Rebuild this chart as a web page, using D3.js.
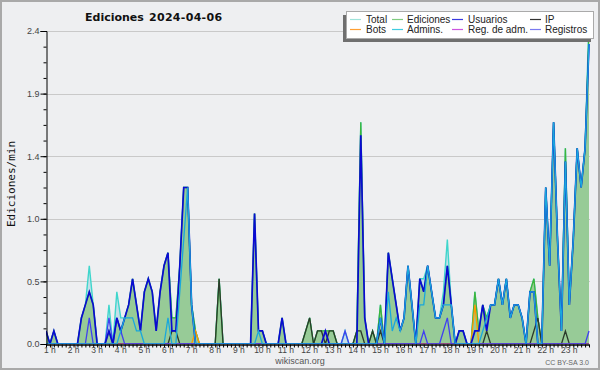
<!DOCTYPE html>
<html>
<head>
<meta charset="utf-8">
<script src="https://cdn.jsdelivr.net/npm/d3@7"></script>
<style>
body{margin:0;background:#fff;}
</style>
</head>
<body>
<div id="chart"></div>
<script>
// 10 min buckets, edits per minute; first value is 0:50, then 6 per hour (1 h .. 23 h)
const hourLabels = ["1 h","2 h","3 h","4 h","5 h","6 h","7 h","8 h","9 h","10 h","11 h","12 h",
    "13 h","14 h","15 h","16 h","17 h","18 h","19 h","20 h","21 h","22 h","23 h"];

const total = [0.1,
    0,0.1,0,0,0,0,  0,0,0.2,0.3,0.6,0.3,  0,0,0,0.3,0,0.4,  0.2,0.2,0.3,0.5,0.3,0.1,
    0.4,0.5,0.4,0.1,0.4,0.6,  0.7,0.2,0.2,0.6,1.2,1.2,  0.3,0.1,0,0,0,0,  0,0.5,0,0,0,0,
    0,0,0,0,1.0,0.1,  0.1,0,0,0,0,0.2,  0,0,0,0,0,0.1,  0.2,0,0.1,0.1,0.1,0.1,
    0.1,0,0,0.1,0,0,  0.1,1.7,0.2,0,0.1,0,  0.3,0,0.7,0.5,0.3,0.1,  0.2,0.6,0.3,0,0.5,0.5,
    0.6,0.4,0.2,0.2,0.4,0.8,  0.3,0,0.1,0.1,0,0,  0.4,0.1,0.3,0.2,0.3,0.3,  0.5,0.3,0.5,0.2,0.3,0.3,
    0.2,0,0.4,0.5,0.2,0,  1.2,0.6,1.7,0.8,0.1,1.5,  0.3,0.8,1.5,1.2,1.5,2.5];

const ediciones = [0.1,
    0,0.1,0,0,0,0,  0,0,0.2,0.3,0.4,0.3,  0,0,0,0.1,0,0.2,  0.1,0.2,0.3,0.5,0.3,0.1,
    0.4,0.5,0.4,0.1,0.4,0.6,  0.7,0.2,0.2,0.6,1.2,1.2,  0.3,0.1,0,0,0,0,  0,0.5,0,0,0,0,
    0,0,0,0,1.0,0.1,  0.1,0,0,0,0,0.2,  0,0,0,0,0,0.1,  0.2,0,0.1,0.1,0.1,0.1,
    0.1,0,0,0,0,0,  0.1,1.7,0.2,0,0.1,0,  0.3,0,0.7,0.5,0.3,0.1,  0.2,0.6,0.3,0,0.5,0.4,
    0.6,0.4,0.2,0.2,0.3,0.6,  0.3,0,0.1,0.1,0,0,  0.4,0.1,0.3,0.2,0.3,0.3,  0.5,0.3,0.5,0.2,0.3,0.3,
    0.2,0,0.4,0.5,0.2,0,  1.2,0.6,1.7,0.8,0.1,1.5,  0.3,0.8,1.5,1.2,1.5,2.4];

const usuarios = [0.1,
    0,0.1,0,0,0,0,  0,0,0.2,0.3,0.4,0.3,  0,0,0,0.1,0,0.2,  0.1,0.2,0.3,0.5,0.3,0.1,
    0.4,0.5,0.4,0.1,0.4,0.6,  0.7,0.1,0.1,0.6,1.2,1.2,  0.3,0,0,0,0,0,  0,0,0,0,0,0,
    0,0,0,0,1.0,0.1,  0.1,0,0,0,0,0.2,  0,0,0,0,0,0,  0,0,0,0,0.1,0,
    0,0,0,0,0,0,  0,1.6,0.2,0,0,0,  0.2,0,0.7,0.5,0.3,0.1,  0.2,0.6,0.3,0,0.5,0.4,
    0.6,0.4,0.2,0.2,0.3,0.6,  0.3,0,0.1,0.1,0,0,  0.1,0.1,0.3,0.1,0.3,0.3,  0.5,0.3,0.5,0.2,0.3,0.3,
    0.2,0,0.4,0.4,0,0,  1.2,0.6,1.7,0.8,0.1,1.4,  0.3,0.8,1.5,1.2,1.5,2.3];

const ip = [0,
    0,0,0,0,0,0,  0,0,0,0,0,0,  0,0,0,0,0,0,  0,0,0,0,0,0,
    0,0,0,0,0,0,  0,0.1,0.1,0,0,0,  0,0,0,0,0,0,  0,0.5,0,0,0,0,
    0,0,0,0,0,0,  0,0,0,0,0,0,  0,0,0,0,0,0.1,  0.2,0,0.1,0.1,0,0.1,
    0.1,0,0,0,0,0,  0.1,0.1,0,0,0.1,0,  0.1,0,0,0,0,0,  0,0,0,0,0,0,
    0,0,0,0,0,0,  0,0,0,0,0,0,  0,0,0,0.1,0,0,  0,0,0,0,0,0,
    0,0,0,0.1,0.2,0,  0,0,0,0,0,0.1,  0,0,0,0,0,0];

const bots = [0,
    0,0,0,0,0,0,  0,0,0,0,0,0,  0,0,0,0,0,0,  0,0,0,0,0,0,
    0,0,0,0,0,0,  0,0,0,0,0,0,  0,0.1,0,0,0,0,  0,0,0,0,0,0,
    0,0,0,0,0,0,  0,0,0,0,0,0,  0,0,0,0,0,0,  0,0,0,0,0,0,
    0,0,0,0,0,0,  0,0,0,0,0,0,  0,0,0,0,0,0,  0,0,0,0,0,0,
    0,0,0,0,0,0,  0,0,0,0,0,0,  0.3,0,0,0,0,0,  0,0,0,0,0,0,
    0,0,0,0,0,0,  0,0,0,0,0,0,  0,0,0,0,0,0];

const admins = [0,
    0,0,0,0,0,0,  0,0,0,0,0,0,  0,0,0,0,0,0,  0.1,0.2,0.2,0.2,0.1,0.1,
    0,0,0,0,0,0,  0.2,0,0,0.4,0.8,1.2,  0.3,0,0,0,0,0,  0,0,0,0,0,0,
    0,0,0,0,0,0.1,  0,0,0,0,0,0,  0,0,0,0,0,0,  0,0,0,0,0,0,
    0,0,0,0,0,0,  0,0,0,0,0,0,  0.2,0,0.4,0.1,0.2,0.1,  0.2,0.6,0.3,0,0.3,0.3,
    0.6,0.4,0.2,0.2,0.3,0.3,  0.3,0,0,0,0,0,  0,0,0.1,0.2,0.3,0.3,  0.5,0.3,0.5,0.2,0.3,0.3,
    0.2,0,0.4,0.4,0,0,  1.2,0.6,1.7,0.8,0.1,1.4,  0.3,0.8,1.5,1.2,1.5,2.3];

const regAdm = [0,
    0,0,0,0,0,0,  0,0,0,0,0,0,  0,0,0,0,0,0,  0,0,0,0,0,0,
    0,0,0,0,0,0,  0,0,0,0,0,0,  0,0,0,0,0,0,  0,0,0,0,0,0,
    0,0,0,0,0,0,  0,0,0,0,0,0,  0,0,0,0,0,0,  0,0,0,0,0,0,
    0,0,0,0,0,0,  0,0,0,0,0,0,  0,0,0,0,0,0,  0,0,0,0,0,0,
    0,0,0,0,0,0,  0,0,0,0,0,0,  0,0,0,0,0,0,  0,0,0,0,0,0,
    0,0,0,0,0,0,  0,0,0,0,0,0,  0,0,0,0,0,0];

const registros = [0,
    0,0,0,0,0,0,  0,0,0,0,0.2,0,  0,0,0,0.2,0,0.2,  0.1,0,0,0,0,0,
    0,0,0,0,0,0,  0,0,0,0,0,0,  0,0,0,0,0,0,  0,0,0,0,0,0,
    0,0,0,0,0,0,  0,0,0,0,0,0,  0,0,0,0,0,0,  0,0,0,0,0,0,
    0,0,0,0.1,0,0,  0,0,0,0,0,0,  0,0,0,0,0,0,  0,0,0,0,0,0.1,
    0,0,0,0,0.1,0.2,  0,0,0,0,0,0,  0,0,0,0,0,0,  0,0,0,0,0,0,
    0,0,0,0,0,0,  0,0,0,0,0,0,  0,0,0,0,0,0.1];

const legendNames = ["Total","Ediciones","Usuarios","IP","Bots","Admins.","Reg. de adm.","Registros"];
const legendColors = ["#9fe3da","#80cc80","#3a3ae0","#333333","#ffa033","#40cce0","#cc55e0","#7a7af0"];

const W = 600, H = 370;
const plotLeft = 46, plotRight = 589, plotTop = 31, plotBottom = 344;

const svg = d3.select('#chart').append('svg')
    .attr('width', W)
    .attr('height', H)
    .style('display', 'block');

svg.append('rect')
    .attr('x', 1).attr('y', 1)
    .attr('width', W - 2).attr('height', H - 2)
    .style('fill', '#eeeff1')
    .style('stroke', '#a9a9a9')
    .style('stroke-width', 2);

const x = d3.scaleLinear()
    .domain([0, total.length - 1])
    .range([plotLeft, plotRight]);
const y = d3.scaleLinear()
    .domain([0, 2.4])
    .range([plotBottom, plotTop]);

const majorTicks = d3.range(0, 6).map(k => k * 0.48);
const minorTicks = d3.range(0, 21).map(k => k * 0.12);

// gridlines
svg.append('g')
    .selectAll('line')
    .data(majorTicks.slice(1))
    .enter()
    .append('line')
    .attr('x1', plotLeft).attr('x2', plotRight + 1)
    .attr('y1', d => Math.round(y(d)) + 0.5)
    .attr('y2', d => Math.round(y(d)) + 0.5)
    .style('stroke', '#c9c9c9');

svg.append('clipPath').attr('id', 'plot')
    .append('rect')
    .attr('x', plotLeft).attr('y', plotTop)
    .attr('width', plotRight - plotLeft + 1).attr('height', plotBottom - plotTop);

const plot = svg.append('g').attr('clip-path', 'url(#plot)');

const area = d3.area()
    .x((d, i) => x(i))
    .y0(y(0))
    .y1(d => y(d));
const line = d3.line()
    .x((d, i) => x(i))
    .y(d => y(d));

// Total and Ediciones as filled areas
plot.append('path').attr('d', area(total)).style('fill', '#c4dfe8');
plot.append('path').attr('d', line(total))
    .style('fill', 'none').style('stroke', '#3fd6cc').style('stroke-width', 1.4);
plot.append('path').attr('d', area(ediciones)).style('fill', '#97cb97');
plot.append('path').attr('d', line(ediciones))
    .style('fill', 'none').style('stroke', '#3cb43c').style('stroke-width', 1.3);

// other series as lines
const lineSeries = [
    {data: bots, color: '#ff9900', w: 1.3},
    {data: ip, color: '#2b3a2b', w: 1.3},
    {data: regAdm, color: '#cc44dd', w: 1},
    {data: registros, color: '#4040f0', w: 1.3},
    {data: usuarios, color: '#0a0ad2', w: 1.7},
    {data: admins, color: '#1aa8dc', w: 1.3}
];
plot.append('g')
    .selectAll('path')
    .data(lineSeries)
    .enter()
    .append('path')
    .attr('d', d => line(d.data))
    .style('fill', 'none')
    .style('stroke', d => d.color)
    .style('stroke-width', d => d.w)
    .style('stroke-linejoin', 'miter');

// y axis
const yAxis = svg.append('g')
    .attr('transform', `translate(${plotLeft + 0.5},0)`)
    .call(d3.axisLeft(y).tickValues(majorTicks).tickFormat(d3.format('.1f')).tickSize(6).tickPadding(1));
svg.append('g')
    .attr('transform', `translate(${plotLeft + 0.5},0)`)
    .call(d3.axisLeft(y).tickValues(minorTicks).tickFormat('').tickSize(3))
    .select('.domain').remove();
yAxis.selectAll('text')
    .style('font-family', 'Liberation Sans, sans-serif')
    .style('font-size', '9px')
    .style('fill', '#444');
svg.selectAll('.domain, .tick line').style('stroke', '#000');

// x axis: a tick every 10 minutes, hour labels
const xAxis = svg.append('g')
    .attr('transform', `translate(0,${plotBottom + 0.5})`)
    .call(d3.axisBottom(x).tickValues(d3.range(0, total.length)).tickFormat('').tickSize(3).tickSizeOuter(0));
xAxis.select('.domain').style('stroke', '#000').style('stroke-width', 1.5);
xAxis.selectAll('.tick line').style('stroke', '#000');

svg.append('g')
    .selectAll('text')
    .data(hourLabels)
    .enter()
    .append('text')
    .attr('x', (d, i) => x(6 * i + 1))
    .attr('y', 353)
    .attr('text-anchor', 'middle')
    .style('font-family', 'Liberation Sans, sans-serif')
    .style('font-size', '8.5px')
    .style('fill', '#444')
    .text(d => d);

// titles
svg.append('text')
    .attr('x', 85).attr('y', 21)
    .style('font-family', 'DejaVu Sans, sans-serif')
    .style('font-weight', 'bold')
    .style('font-size', '11px')
    .style('fill', '#111')
    .text('Ediciones');
svg.append('text')
    .attr('x', 149).attr('y', 21)
    .style('font-family', 'DejaVu Sans, sans-serif')
    .style('font-weight', 'bold')
    .style('font-size', '11px')
    .style('letter-spacing', '0.3px')
    .style('fill', '#111')
    .text('2024-04-06');

svg.append('text')
    .attr('transform', 'translate(15,184) rotate(-90)')
    .attr('text-anchor', 'middle')
    .style('font-family', 'DejaVu Sans Mono, monospace')
    .style('font-size', '11px')
    .style('fill', '#111')
    .text('Ediciones/min');

svg.append('text')
    .attr('x', 300).attr('y', 364)
    .attr('text-anchor', 'middle')
    .style('font-family', 'Liberation Sans, sans-serif')
    .style('font-size', '9px')
    .style('fill', '#555')
    .text('wikiscan.org');

svg.append('text')
    .attr('x', 589).attr('y', 365)
    .attr('text-anchor', 'end')
    .style('font-family', 'Liberation Sans, sans-serif')
    .style('font-size', '7px')
    .style('fill', '#666')
    .text('CC BY-SA 3.0');

// legend
const lg = svg.append('g');
lg.append('rect')
    .attr('x', 343).attr('y', 15).attr('width', 248).attr('height', 27)
    .style('fill', '#6f6f6f');
lg.append('rect')
    .attr('x', 346.5).attr('y', 11.5).attr('width', 247).attr('height', 27)
    .style('fill', '#fff').style('stroke', '#aaa');

const colX = [350, 392, 452, 530];
const item = lg.selectAll('.item')
    .data(legendNames)
    .enter()
    .append('g')
    .attr('class', 'item')
    .attr('transform', (d, i) => `translate(${colX[i % 4]},${i < 4 ? 19.5 : 29.5})`);
item.append('line')
    .attr('x1', 0).attr('x2', 11)
    .style('stroke', (d, i) => legendColors[i])
    .style('stroke-width', 1.2);
item.append('text')
    .attr('x', (d, i) => [16, 15, 16, 15][i % 4])
    .attr('y', 3.5)
    .style('font-family', 'Liberation Sans, sans-serif')
    .style('font-size', '10px')
    .style('fill', '#222')
    .text(d => d);
</script>
</body>
</html>
